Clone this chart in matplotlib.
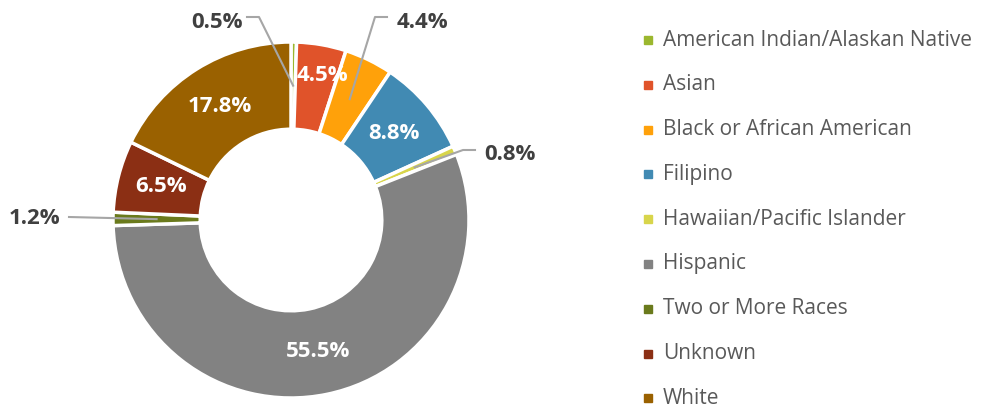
import numpy as np
import matplotlib.pyplot as plt

plt.rcParams['font.family'] = ['Open Sans', 'DejaVu Sans']

categories = ['American Indian/Alaskan Native', 'Asian', 'Black or African American',
              'Filipino', 'Hawaiian/Pacific Islander', 'Hispanic',
              'Two or More Races', 'Unknown', 'White']
values = [0.5, 4.5, 4.4, 8.8, 0.8, 55.5, 1.2, 6.5, 17.8]
labels = ['0.5%', '4.5%', '4.4%', '8.8%', '0.8%', '55.5%', '1.2%', '6.5%', '17.8%']
colors = ['#9BB72E', '#E0532A', '#FFA10A', '#418AB3', '#D8D54B',
          '#828282', '#6A7A1C', '#8B2F14', '#9A6100']

# layout in pixel units (y up)
W, H = 982, 408
cx, cy = 291, H - 220
R = 178
hole = 0.51

fig = plt.figure(figsize=(W / 100, H / 100), dpi=100)
ax = fig.add_axes([0, 0, 1, 1])
wedges, _ = ax.pie(values, colors=colors, startangle=90, counterclock=False,
                   radius=R, center=(cx, cy),
                   wedgeprops=dict(width=R * (1 - hole), edgecolor='white', linewidth=2.5))
ax.set_xlim(0, W)
ax.set_ylim(0, H)
ax.set_aspect('equal')
ax.axis('off')

# outside labels: (text x, text y, elbow x, start x) in pixel layout, y from top
outside = {0: (217, 22, 259, 247), 2: (422, 22, 375, 387),
           4: (510, 155, 463, 475), 6: (35, 218, None, 69)}
nudge = {1: (8, -12)}

rm = R * (1 + hole) / 2
cum = np.cumsum([0] + values[:-1])
for i, (v, lab) in enumerate(zip(values, labels)):
    mid = (cum[i] + v / 2) / 100 * 2 * np.pi
    ax_x = cx + rm * np.sin(mid)
    ax_y = cy + rm * np.cos(mid)
    if i in outside:
        tx, ty, ex, sx = outside[i]
        ty = H - ty
        if ex is None:
            ax.plot([sx, ax_x], [ty + 1, ax_y], color='#A6A6A6', lw=1.5)
        else:
            ax.plot([sx, ex, ax_x], [ty + 5, ty + 5, ax_y], color='#A6A6A6', lw=1.5)
        ax.text(tx, ty, lab, ha='center', va='center', fontsize=16,
                fontweight='bold', color='#404040')
    else:
        dx, dy = nudge.get(i, (0, 0))
        ax.text(ax_x + dx, ax_y - dy, lab, ha='center', va='center', fontsize=16,
                fontweight='bold', color='white')

# legend
for i, (name, c) in enumerate(zip(categories, colors)):
    y = H - (40 + i * 44.8)
    ax.plot(648, y, marker='s', ms=5.5, color=c, ls='none')
    ax.text(663, y, name, ha='left', va='center', fontsize=15, color='#595959')

fig.savefig('out.png', dpi=100)
